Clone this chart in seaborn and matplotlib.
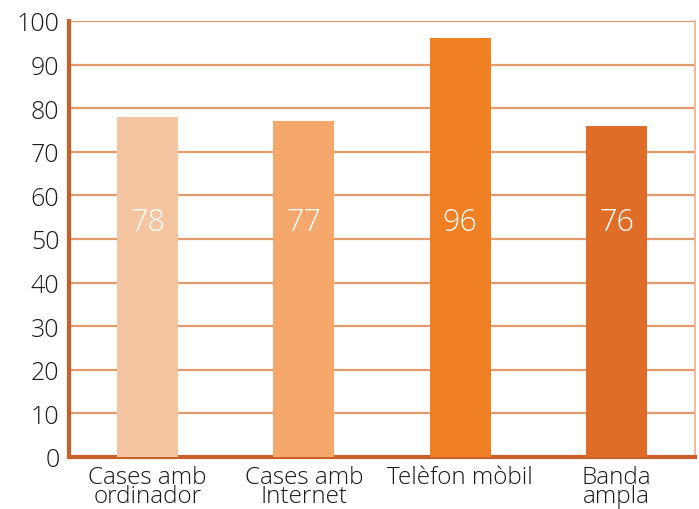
import seaborn as sns
import matplotlib.pyplot as plt
import pandas as pd

categories = ["Cases amb\nordinador", "Cases amb\nInternet", "Telèfon mòbil", "Banda\nampla"]
values = [78, 77, 96, 76]
colors = ["#F5C4A0", "#F6A76C", "#F17F24", "#E06D27"]

df = pd.DataFrame({"cat": categories, "val": values})

sns.set_style("white")
plt.rcParams['font.family'] = ['Open Sans', 'DejaVu Sans']

fig = plt.figure(figsize=(6.99, 5.10), dpi=100)
ax = fig.add_axes([0.099, 0.102, 0.895, 0.855])

sns.barplot(data=df, x="cat", y="val", hue="cat", palette=colors, legend=False,
            width=0.39, saturation=1, linewidth=0, ax=ax, zorder=3)

ax.set_ylim(0, 100)
ax.set_xlim(-0.5, 3.5)
ax.set_yticks(range(0, 101, 10))
ax.yaxis.grid(True, color="#E59A6E", linewidth=1.6, zorder=0)
ax.set_axisbelow(True)

for i, v in enumerate(values):
    ax.text(i, 54, str(v), ha="center", va="center", color="white",
            fontsize=22, fontweight="light")

ax.set_xlabel("")
ax.set_ylabel("")
ax.tick_params(axis="y", labelsize=18, labelcolor="#1a1a1a", length=5, width=1.6,
               color="#E59A6E", pad=2)
ax.tick_params(axis="x", labelsize=17.5, labelcolor="#1a1a1a", length=0, pad=6)
for lab in ax.get_yticklabels() + ax.get_xticklabels():
    lab.set_fontweight("light")
for lab in ax.get_xticklabels():
    lab.set_linespacing(0.72)

ax.spines["left"].set_color("#C9602A")
ax.spines["left"].set_linewidth(3)
ax.spines["bottom"].set_color("#C9602A")
ax.spines["bottom"].set_linewidth(3)
ax.spines["right"].set_color("#EBB08E")
ax.spines["right"].set_linewidth(1.2)
ax.spines["top"].set_visible(False)

fig.savefig("out.png", dpi=100)
